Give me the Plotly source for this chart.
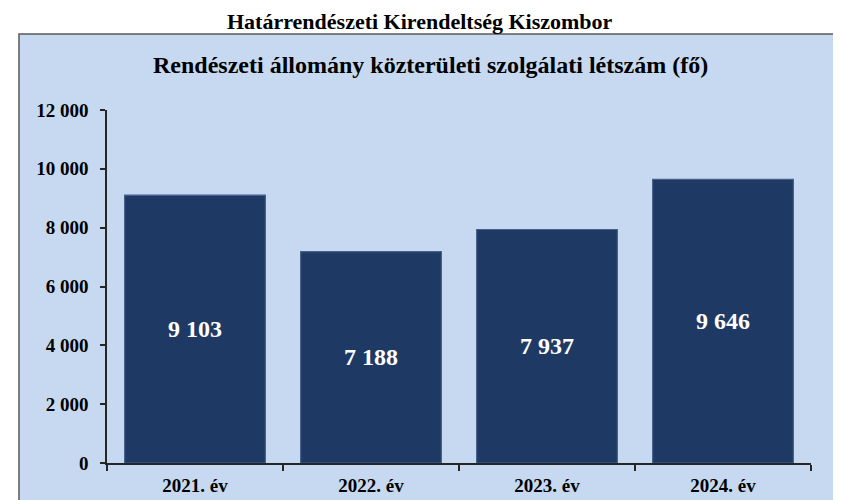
import plotly.graph_objects as go

categories = ["2021. év", "2022. év", "2023. év", "2024. év"]
values = [9103, 7188, 7937, 9646]
value_labels = ["9 103", "7 188", "7 937", "9 646"]
tick_vals = [0, 2000, 4000, 6000, 8000, 10000, 12000]
tick_text = ["0", "2 000", "4 000", "6 000", "8 000", "10 000", "12 000"]

FONT = "Liberation Serif, Times New Roman, serif"

fig = go.Figure()
fig.add_trace(go.Bar(
    x=categories, y=values,
    text=value_labels,
    textposition="inside",
    insidetextanchor="middle",
    textangle=0,
    textfont=dict(family=FONT, size=24, color="white", weight="bold"),
    marker=dict(color="#1E3A64", line=dict(color="#46618A", width=1.2)),
    width=0.8,
    hoverinfo="x+y",
))

# page body has an 8px margin, so figure coordinates = screen - 8
OFF = 8
W, H = 841, 500
l, r, t, b = 107 - OFF, 841 - (811 - OFF), 110 - OFF, 500 - (463 - OFF)
pw, ph = W - l - r, H - t - b


def px_x(x):
    return (x - OFF - l) / pw


def px_y(y):
    return (H - b - (y - OFF)) / ph


fig.update_layout(
    width=W, height=H,
    margin=dict(l=l, r=r, t=t, b=b),
    paper_bgcolor="white",
    plot_bgcolor="#C6D9F0",
    showlegend=False,
    font=dict(family=FONT, color="black"),
    shapes=[dict(
        type="rect", xref="paper", yref="paper",
        x0=px_x(19), x1=px_x(839), y0=px_y(520), y1=px_y(34),
        fillcolor="#C6D9F0", line=dict(color="#5A5A5A", width=1.5),
        layer="below",
    )],
    annotations=[
        dict(text="<b>Határrendészeti Kirendeltség Kiszombor</b>",
             xref="paper", yref="paper", x=px_x(420), y=px_y(8),
             showarrow=False, font=dict(family=FONT, size=22, color="black"),
             xanchor="center", yanchor="top", borderpad=0),
        dict(text="<b>Rendészeti állomány közterületi szolgálati létszám (fő)</b>",
             xref="paper", yref="paper", x=px_x(430), y=px_y(65),
             showarrow=False, font=dict(family=FONT, size=24, color="black"),
             xanchor="center", yanchor="middle"),
    ],
    bargap=0.2,
)

fig.update_yaxes(
    range=[0, 12000],
    tickvals=tick_vals, ticktext=tick_text,
    showgrid=False, zeroline=False,
    showline=True, linecolor="#262626", linewidth=1.5,
    ticks="outside", ticklen=5, tickcolor="#262626", tickwidth=1.5,
    tickfont=dict(family=FONT, size=19, color="black", weight="bold"),
    ticklabelstandoff=8,
)
fig.update_xaxes(
    showgrid=False,
    showline=True, linecolor="#262626", linewidth=1.5,
    ticks="outside", ticklen=6, tickcolor="#262626", tickwidth=1.5,
    tickson="boundaries",
    tickfont=dict(family=FONT, size=19, color="black", weight="bold"),
    ticklabelstandoff=4,
)

fig.write_html("out.html")
